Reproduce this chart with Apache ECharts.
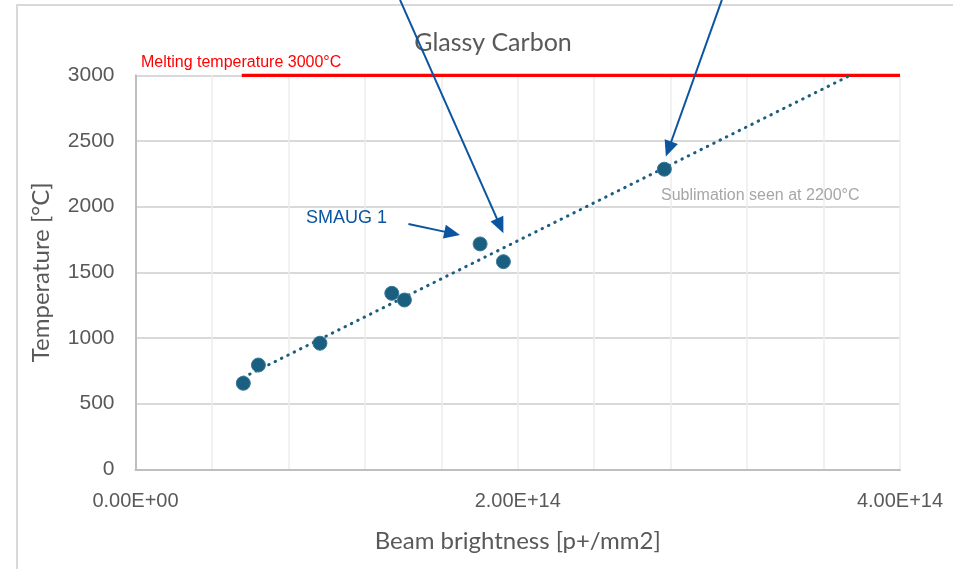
<!DOCTYPE html>
<html>
<head>
<meta charset="utf-8">
<script src="https://cdn.jsdelivr.net/npm/echarts@6/dist/echarts.min.js"></script>
<style>
  html, body { margin: 0; padding: 0; background: #ffffff; }
  #chart { width: 953px; height: 569px; }
</style>
</head>
<body>
<div id="chart"></div>
<script>
// Measured beam brightness [p+/mm2] and peak temperature [°C] for glassy carbon
const brightness = [0.564e14, 0.643e14, 0.965e14, 1.341e14, 1.407e14, 1.803e14, 1.925e14, 2.767e14];
const temperature = [655, 794, 960, 1340, 1289, 1716, 1581, 2285];

// Linear trend extended up to the melting point
const trendX = [0.564e14, 3.74e14];
const trendY = [700, 3000];

// Melting temperature reference line
const meltX = [0.556e14, 4.0e14];
const meltY = [3000, 3000];

// Axis settings
const xTicks = [0, 2e14, 4e14];
const yTicks = [0, 500, 1000, 1500, 2000, 2500, 3000];

// Annotation arrows, [x, y] in data units: start -> tip
const arrowSegments = [
  [[1.384e14, 3574], [1.925e14, 1797]],
  [[3.068e14, 3574], [2.775e14, 2381]],
  [[1.428e14, 1868], [1.698e14, 1784]]
];

const zip = (xs, ys) => xs.map((x, i) => [x, ys[i]]);

function sci(v) {
  if (v === 0) return '0.00E+00';
  const e = Math.floor(Math.log10(Math.abs(v)));
  const m = v / Math.pow(10, e);
  return m.toFixed(2) + 'E' + (e < 0 ? '-' : '+') + String(Math.abs(e)).padStart(2, '0');
}

const chart = echarts.init(document.getElementById('chart'), null, { renderer: 'canvas' });

const tickFont = '"Liberation Sans", Arial, sans-serif';
const textFont = 'Lato, "Open Sans", sans-serif';

const option = {
  animation: false,
  backgroundColor: '#ffffff',
  title: {
    text: 'Glassy Carbon',
    left: 488,
    top: 25,
    textAlign: 'center',
    textStyle: { fontFamily: textFont, fontSize: 25, fontWeight: 'normal', color: '#595959' }
  },
  grid: { left: 135.5, right: 53, top: 75.3, bottom: 99.7 },
  xAxis: {
    type: 'value',
    min: 0,
    max: 4e14,
    interval: 0.4e14,
    name: 'Beam brightness [p+/mm2]',
    nameLocation: 'middle',
    nameGap: 60,
    nameTextStyle: { fontFamily: textFont, fontSize: 24, color: '#595959' },
    axisLine: { show: true, lineStyle: { color: '#bfbfbf', width: 2 } },
    axisTick: { show: false },
    splitLine: { show: true, lineStyle: { color: '#ededed', width: 1.5 } },
    axisLabel: {
      margin: 22,
      fontFamily: tickFont,
      fontSize: 20,
      color: '#595959',
      formatter: v => (xTicks.some(t => Math.abs(t - v) < 1e9) ? sci(v) : '')
    }
  },
  yAxis: {
    type: 'value',
    min: 0,
    max: 3000,
    interval: 500,
    name: 'Temperature [°C]',
    nameLocation: 'middle',
    nameGap: 82,
    nameTextStyle: { fontFamily: textFont, fontSize: 24, color: '#595959' },
    axisLine: { show: true, lineStyle: { color: '#bfbfbf', width: 2 } },
    axisTick: { show: false },
    splitLine: { show: true, lineStyle: { color: '#d9d9d9', width: 2 } },
    axisLabel: {
      margin: 21,
      fontFamily: tickFont,
      fontSize: 21,
      color: '#595959',
      formatter: v => (yTicks.includes(v) ? String(v) : '')
    }
  },
  series: [
    {
      name: 'Melting temperature',
      type: 'line',
      data: zip(meltX, meltY),
      symbol: 'none',
      lineStyle: { color: '#ff0000', width: 3.5 },
      z: 3
    },
    {
      name: 'Trend',
      type: 'line',
      data: zip(trendX, trendY),
      symbol: 'none',
      lineStyle: { color: '#1b5f80', width: 3, type: [0.5, 6.6], cap: 'round' },
      z: 4
    },
    {
      name: 'Glassy carbon',
      type: 'scatter',
      data: zip(brightness, temperature),
      symbol: 'circle',
      symbolSize: 14,
      itemStyle: { color: '#1a5e80', borderColor: '#3a7a98', borderWidth: 1, opacity: 1 },
      z: 5
    }
  ]
};

chart.setOption(option);

// Arrow annotations, built from data coordinates through the grid's scales
const arrowColor = '#0b54a0';
const graphics = [
  // outer frame of the chart area
  {
    type: 'rect',
    shape: { x: 17, y: 5, width: 1000, height: 700 },
    style: { fill: 'none', stroke: '#d9d9d9', lineWidth: 2 },
    z: 0, silent: true
  },
  {
    type: 'text',
    left: 141, top: 55,
    style: { text: 'Melting temperature 3000°C', fill: '#ff0000', font: '16px "Liberation Sans", Arial, sans-serif' },
    z: 10
  },
  {
    type: 'text',
    left: 306, top: 209,
    style: { text: 'SMAUG 1', fill: '#0b54a0', font: '18px "Liberation Sans", Arial, sans-serif' },
    z: 10
  },
  {
    type: 'text',
    left: 661, top: 188,
    style: { text: 'Sublimation seen at 2200°C', fill: '#a6a6a6', font: '16px "Liberation Sans", Arial, sans-serif' },
    z: 10
  }
];

arrowSegments.forEach(([from, to]) => {
  const p0 = chart.convertToPixel({ gridIndex: 0 }, from);
  const p1 = chart.convertToPixel({ gridIndex: 0 }, to);
  const dx = p1[0] - p0[0], dy = p1[1] - p0[1];
  const len = Math.hypot(dx, dy);
  const ux = dx / len, uy = dy / len;
  const headLen = 16, headHalf = 7;
  const base = [p1[0] - ux * headLen, p1[1] - uy * headLen];
  graphics.push({
    type: 'line',
    shape: { x1: p0[0], y1: p0[1], x2: base[0] + ux * 1, y2: base[1] + uy * 1 },
    style: { stroke: arrowColor, lineWidth: 2 },
    z: 20, silent: true
  });
  graphics.push({
    type: 'polygon',
    shape: {
      points: [
        p1,
        [base[0] - uy * headHalf, base[1] + ux * headHalf],
        [base[0] + uy * headHalf, base[1] - ux * headHalf]
      ]
    },
    style: { fill: arrowColor },
    z: 20, silent: true
  });
});

chart.setOption({ graphic: graphics });
</script>
</body>
</html>
